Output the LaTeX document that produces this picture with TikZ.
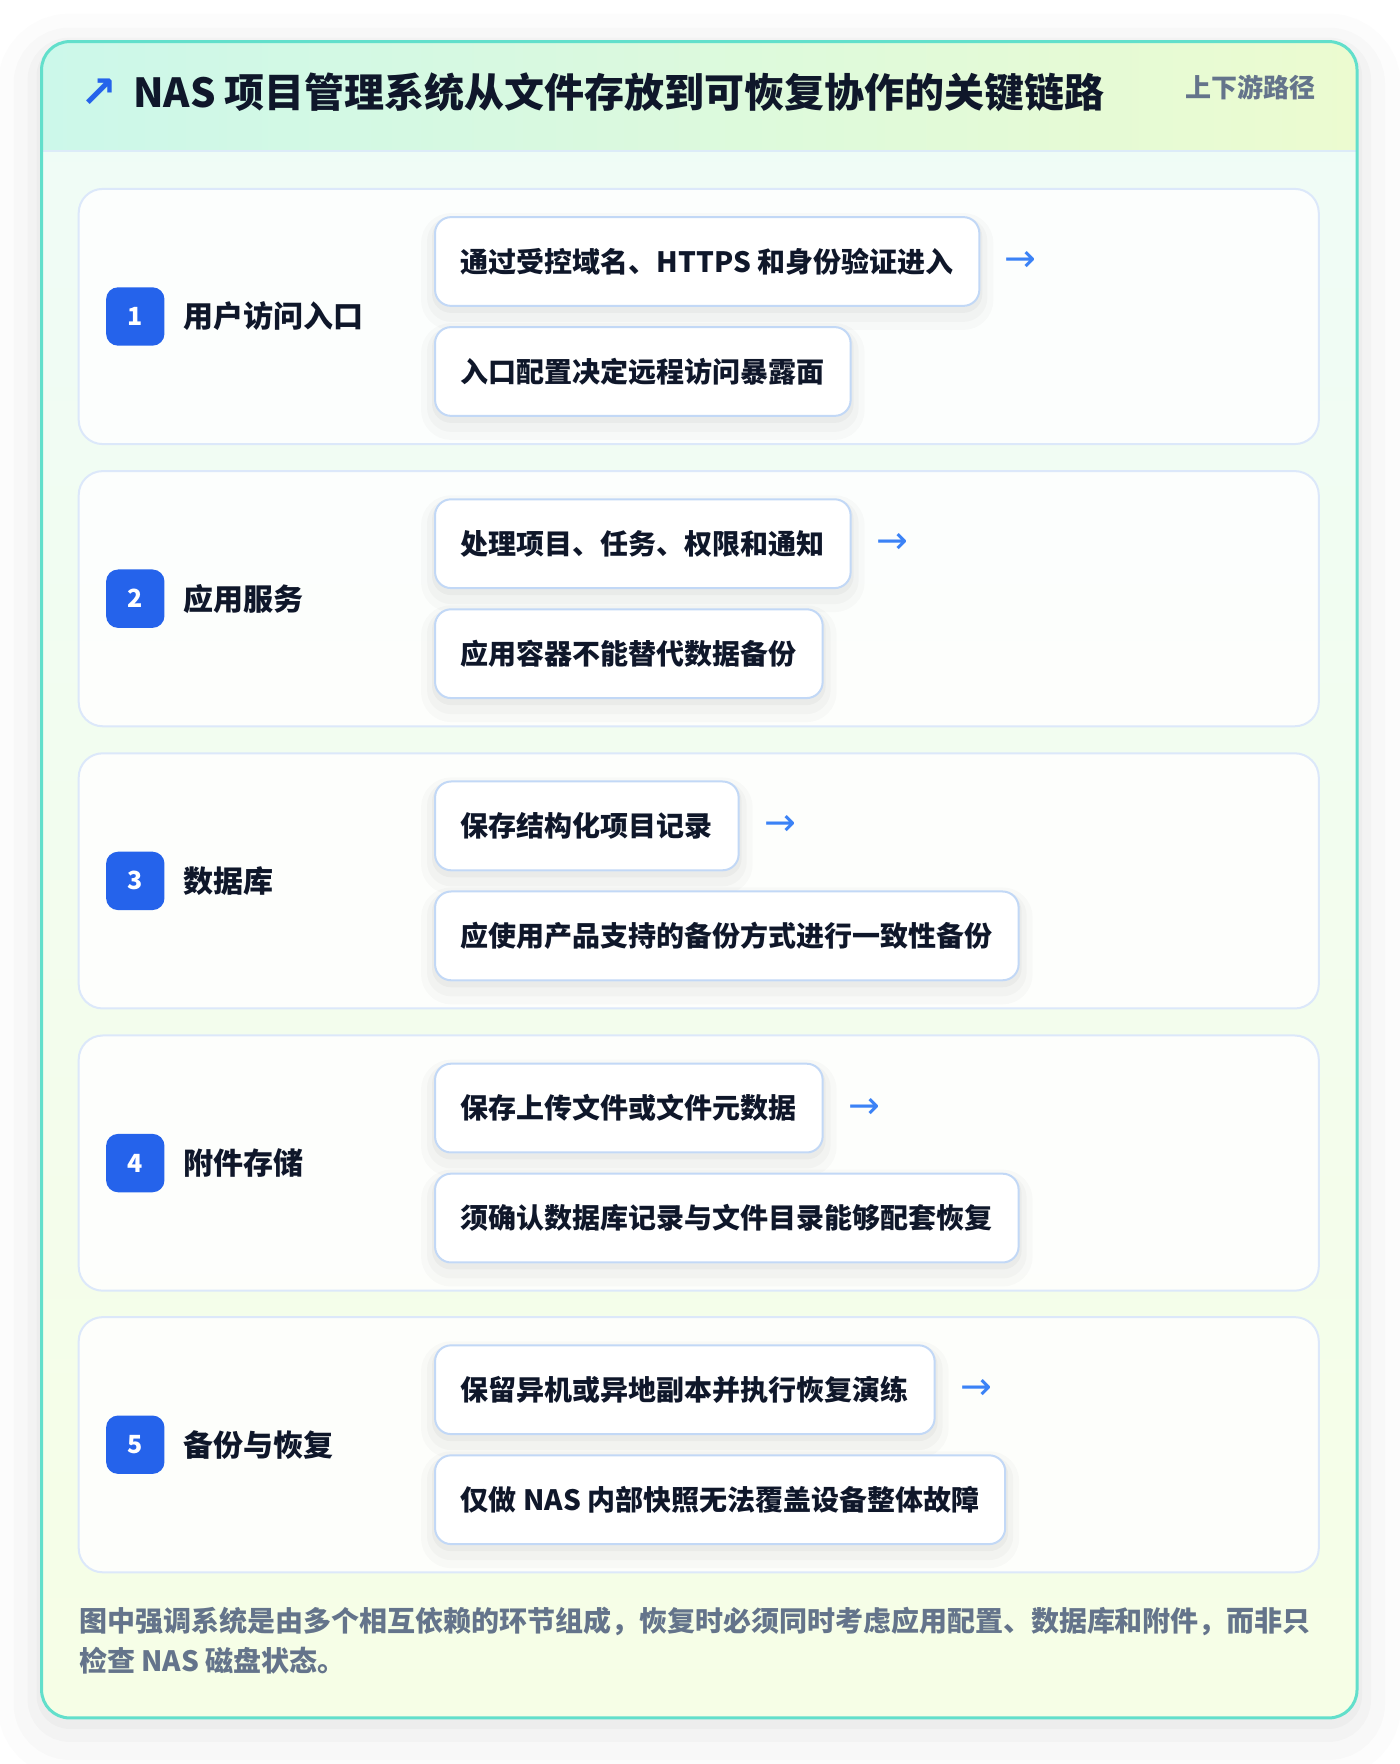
\documentclass[tikz,border=0pt]{standalone}
\usepackage{fontspec}
\setmainfont{Noto Sans CJK SC}
\newfontfamily\arrowfont{DejaVu Sans}
\usetikzlibrary{positioning}

\definecolor{frameteal}{HTML}{62DFCB}
\definecolor{headleft}{HTML}{CCF8EA}
\definecolor{headright}{HTML}{ECFBD0}
\definecolor{headline}{HTML}{DCEBF8}
\definecolor{bodytop}{HTML}{EFFCF7}
\definecolor{bodybot}{HTML}{F6FEE6}
\definecolor{cardline}{HTML}{DCE8FA}
\definecolor{boxline}{HTML}{C2D8F6}
\definecolor{badgeblue}{HTML}{2563EB}
\definecolor{arrowblue}{HTML}{3B82F6}
\definecolor{ink}{HTML}{0F172A}
\definecolor{muted}{HTML}{64748B}

\tikzset{
  boxshadow/.style={
    preaction={draw=black, draw opacity=0.018, line width=14pt, transform canvas={yshift=-5pt}},
    preaction={draw=black, draw opacity=0.022, line width=8pt, transform canvas={yshift=-4pt}},
    preaction={draw=black, draw opacity=0.03, line width=3pt, transform canvas={yshift=-2pt}}},
  cardshadow/.style={
    preaction={draw=black, draw opacity=0.012, line width=44pt, transform canvas={yshift=-8pt}},
    preaction={draw=black, draw opacity=0.015, line width=28pt, transform canvas={yshift=-7pt}},
    preaction={draw=black, draw opacity=0.02, line width=14pt, transform canvas={yshift=-5pt}},
    preaction={draw=black, draw opacity=0.025, line width=5pt, transform canvas={yshift=-3pt}}},
  stepcard/.style={draw=cardline, line width=1pt, fill=white, fill opacity=0.85,
    rounded corners=12pt, minimum width=620.1pt, minimum height=127.6pt},
  badge/.style={fill=badgeblue, rounded corners=6pt, minimum size=29.2pt, inner sep=0pt,
    text=white, font=\bfseries\fontsize{12.5pt}{14pt}\selectfont},
  steplabel/.style={inner sep=0pt, text=ink, font=\bfseries\fontsize{15pt}{18pt}\selectfont},
  factbox/.style={draw=boxline, line width=1pt, fill=white, rounded corners=8pt, boxshadow,
    minimum height=44.4pt, inner xsep=12.9pt, inner ysep=0pt, anchor=west, text=ink,
    font=\bfseries\fontsize{14pt}{17pt}\selectfont},
  flowarrow/.style={inner sep=0pt, text=arrowblue, font=\arrowfont\fontsize{19pt}{21pt}\selectfont},
}

\begin{document}
\begin{tikzpicture}[x=0.5622pt, y=-0.5622pt]
  \useasboundingbox[fill=white] (0,0) rectangle (1245,1569);

  \coordinate (tl) at (37,37);     % outer card, top left
  \coordinate (br) at (1207,1528); % outer card, bottom right
  \coordinate (hb) at (1207,134);  % bottom right of header band

  % outer card with shadow, body and header
  \path[fill=white, rounded corners=14pt, cardshadow] (tl) rectangle (br);
  \shade[top color=bodytop, bottom color=bodybot, rounded corners=14pt] (tl) rectangle (br);
  \begin{scope}
    \clip[rounded corners=14pt] (tl) rectangle (br);
    \shade[left color=headleft, right color=headright] (tl) rectangle (hb);
  \end{scope}
  \draw[headline, line width=1pt] (37,134) -- (hb);
  \draw[frameteal, line width=1.5pt, rounded corners=14pt] (tl) rectangle (br);

  % header texts
  \node[text=badgeblue, inner sep=0pt, font=\arrowfont\bfseries\fontsize{22pt}{24pt}\selectfont]
    (titlearrow) at (88,83) {↗};
  \node[anchor=west, inner sep=0pt, text=ink, font=\bfseries\fontsize{20pt}{24pt}\selectfont]
    (title) at (118,82) {NAS 项目管理系统从文件存放到可恢复协作的关键链路};
  \node[anchor=east, inner sep=0pt, text=muted, font=\bfseries\fontsize{13pt}{15pt}\selectfont]
    (tag) at (1170,78) {上下游路径};

  % card 1
  \node[stepcard] (c1) at (621.5,281.5) {};
  \node[badge, right=14pt of c1.west] (n1) {1};
  \node[steplabel, right=9pt of n1] (l1) {用户访问入口};
  \node[factbox] (f1a) at ([xshift=178.2pt, yshift=27.5pt]c1.west) {通过受控域名、HTTPS 和身份验证进入};
  \node[factbox] (f1b) at ([xshift=178.2pt, yshift=-27.5pt]c1.west) {入口配置决定远程访问暴露面};
  \node[flowarrow, right=12pt of f1a] (a1) {→};

  % card 2
  \node[stepcard] (c2) at (621.5,532.5) {};
  \node[badge, right=14pt of c2.west] (n2) {2};
  \node[steplabel, right=9pt of n2] (l2) {应用服务};
  \node[factbox] (f2a) at ([xshift=178.2pt, yshift=27.5pt]c2.west) {处理项目、任务、权限和通知};
  \node[factbox] (f2b) at ([xshift=178.2pt, yshift=-27.5pt]c2.west) {应用容器不能替代数据备份};
  \node[flowarrow, right=12pt of f2a] (a2) {→};

  % card 3
  \node[stepcard] (c3) at (621.5,783.5) {};
  \node[badge, right=14pt of c3.west] (n3) {3};
  \node[steplabel, right=9pt of n3] (l3) {数据库};
  \node[factbox] (f3a) at ([xshift=178.2pt, yshift=27.5pt]c3.west) {保存结构化项目记录};
  \node[factbox] (f3b) at ([xshift=178.2pt, yshift=-27.5pt]c3.west) {应使用产品支持的备份方式进行一致性备份};
  \node[flowarrow, right=12pt of f3a] (a3) {→};

  % card 4
  \node[stepcard] (c4) at (621.5,1034.5) {};
  \node[badge, right=14pt of c4.west] (n4) {4};
  \node[steplabel, right=9pt of n4] (l4) {附件存储};
  \node[factbox] (f4a) at ([xshift=178.2pt, yshift=27.5pt]c4.west) {保存上传文件或文件元数据};
  \node[factbox] (f4b) at ([xshift=178.2pt, yshift=-27.5pt]c4.west) {须确认数据库记录与文件目录能够配套恢复};
  \node[flowarrow, right=12pt of f4a] (a4) {→};

  % card 5
  \node[stepcard] (c5) at (621.5,1285) {};
  \node[badge, right=14pt of c5.west] (n5) {5};
  \node[steplabel, right=9pt of n5] (l5) {备份与恢复};
  \node[factbox] (f5a) at ([xshift=178.2pt, yshift=27.5pt]c5.west) {保留异机或异地副本并执行恢复演练};
  \node[factbox] (f5b) at ([xshift=178.2pt, yshift=-27.5pt]c5.west) {仅做 NAS 内部快照无法覆盖设备整体故障};
  \node[flowarrow, right=12pt of f5a] (a5) {→};

  % closing note
  \node[anchor=west, align=left, inner sep=0pt, text=muted,
    font=\bfseries\fontsize{14pt}{20.2pt}\selectfont] (note) at (70,1459)
    {图中强调系统是由多个相互依赖的环节组成，恢复时必须同时考虑应用配置、数据库和附件，而非只\\检查 NAS 磁盘状态。};
\end{tikzpicture}
\end{document}
